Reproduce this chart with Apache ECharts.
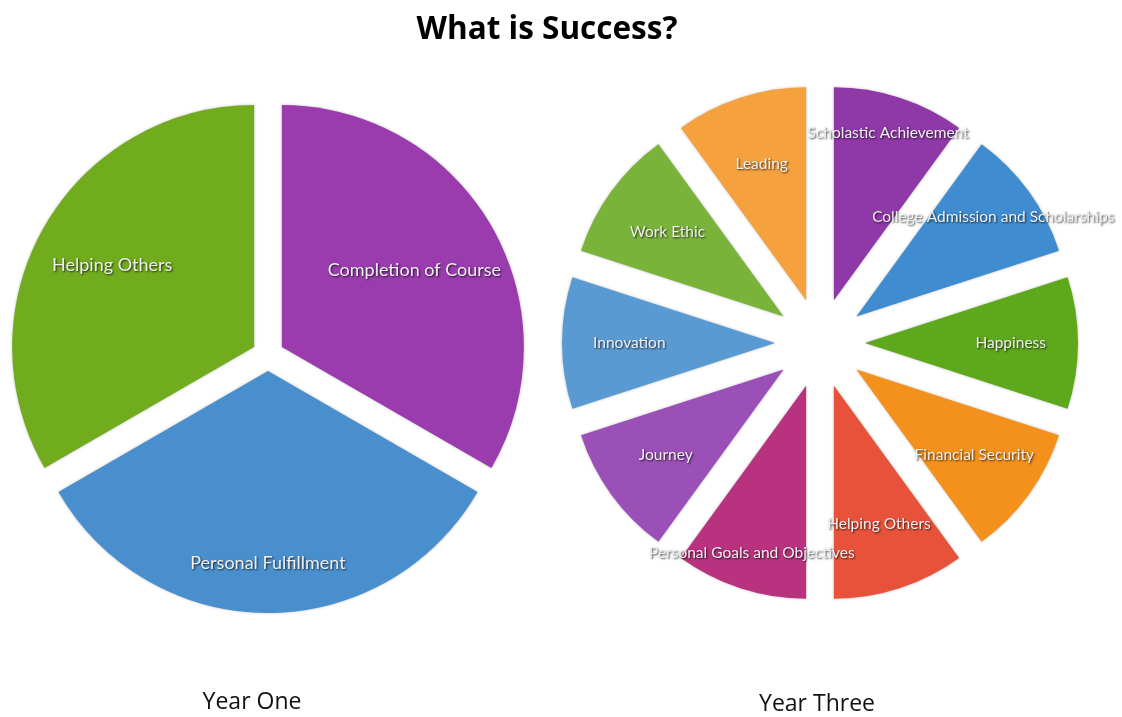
<!DOCTYPE html>
<html>
<head>
<meta charset="utf-8">
<script src="https://cdn.jsdelivr.net/npm/echarts@6/dist/echarts.min.js"></script>
<style>
html,body{margin:0;padding:0;background:#fff;}
#chart{width:1122px;height:717px;}
</style>
</head>
<body>
<div id="chart"></div>
<script>
// ---- data ----
const titleText = 'What is Success?';
const yearOneLabel = 'Year One';
const yearThreeLabel = 'Year Three';

const yearOneCategories = ['Completion of Course', 'Personal Fulfillment', 'Helping Others'];
const yearOneValues = [1, 1, 1];

const yearThreeCategories = [
  'Scholastic Achievement', 'College Admission and Scholarships', 'Happiness',
  'Financial Security', 'Helping Others', 'Personal Goals and Objectives',
  'Journey', 'Innovation', 'Work Ethic', 'Leading'
];
const yearThreeValues = [1, 1, 1, 1, 1, 1, 1, 1, 1, 1];

// ---- styles ----
const yearOneColors = ['#9a3cae', '#4a8fcd', '#71ac1e'];
const yearThreeColors = ['#8f38a8', '#3f8dd0', '#5ea81c', '#f3911c', '#e8523a',
                         '#b8327f', '#9b50b7', '#5a9ad3', '#7ab33a', '#f4a13e'];
// radial position of each label, as a fraction of the radius
const yearOneLabelFrac = [0.62, 0.78, 0.665];
const yearThreeLabelFrac = [0.81, 0.78, 0.67, 0.67, 0.67, 0.81, 0.67, 0.67, 0.66, 0.66];

const R1 = 242, R3 = 213;

function buildData(cats, vals, colors) {
  return cats.map((c, i) => ({
    name: c, value: vals[i], selected: true,
    itemStyle: { color: colors[i] },
    select: { itemStyle: { color: colors[i], borderWidth: 0 } }
  }));
}

function labelStyle(size) {
  return {
    show: true, position: 'inside', formatter: '{b}',
    color: '#f0f0f0', fontSize: size, fontFamily: 'Lato',
    textShadowColor: 'rgba(0,0,0,0.75)', textShadowBlur: 2,
    textShadowOffsetX: 1, textShadowOffsetY: 1
  };
}

function makeLayout(n, R, fracs) {
  return function (p) {
    const th = (p.dataIndex + 0.5) * 2 * Math.PI / n;
    const f = fracs[p.dataIndex] - 0.5;
    return { dx: f * R * Math.sin(th), dy: -f * R * Math.cos(th) };
  };
}

const chart = echarts.init(document.getElementById('chart'), null, { renderer: 'canvas' });
chart.setOption({
  animation: false,
  backgroundColor: '#ffffff',
  title: [
    { text: titleText, left: 542, top: 9, textAlign: 'center',
      textStyle: { fontFamily: 'Open Sans', fontWeight: 700, fontSize: 31.5, color: '#000' } },
    { text: yearOneLabel, left: 247, top: 686, textAlign: 'center',
      textStyle: { fontFamily: 'Open Sans', fontWeight: 400, fontSize: 23, color: '#111' } },
    { text: yearThreeLabel, left: 812, top: 688, textAlign: 'center',
      textStyle: { fontFamily: 'Open Sans', fontWeight: 400, fontSize: 23, color: '#111' } }
  ],
  series: [
    {
      type: 'pie', center: [268, 355], radius: [0, R1],
      startAngle: 90, clockwise: true,
      selectedMode: 'multiple', selectedOffset: 16,
      silent: true, emphasis: { disabled: true },
      itemStyle: { shadowColor: 'rgba(0,0,0,0.25)', shadowBlur: 3 },
      label: labelStyle(18), labelLine: { show: false },
      labelLayout: makeLayout(3, R1, yearOneLabelFrac),
      data: buildData(yearOneCategories, yearOneValues, yearOneColors)
    },
    {
      type: 'pie', center: [820, 343], radius: [0, R3],
      startAngle: 90, clockwise: true,
      selectedMode: 'multiple', selectedOffset: 45,
      silent: true, emphasis: { disabled: true },
      itemStyle: { shadowColor: 'rgba(0,0,0,0.25)', shadowBlur: 3 },
      label: labelStyle(15.5), labelLine: { show: false },
      labelLayout: makeLayout(10, R3, yearThreeLabelFrac),
      data: buildData(yearThreeCategories, yearThreeValues, yearThreeColors)
    }
  ]
});
</script>
</body>
</html>
